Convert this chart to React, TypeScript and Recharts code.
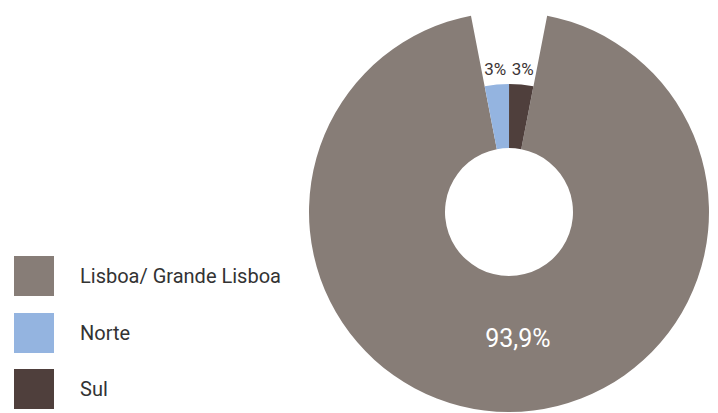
import React from "react";
import { PieChart, Pie, Cell } from "recharts";

const categories = ["Lisboa/ Grande Lisboa", "Norte", "Sul"];
const shares = [93.9, 3.05, 3.05];
const shareLabels = ["93,9%", "3%", "3%"];
const colors = ["#877d77", "#94b4e0", "#4f3f3c"];

const data = categories.map((name, i) => ({ name, value: shares[i], label: shareLabels[i] }));

const RAD = Math.PI / 180;
const FONT = "Roboto, 'Open Sans', sans-serif";

const bigLabel = (props: any) => {
  const { cx, cy, midAngle, innerRadius, outerRadius, index } = props;
  if (index !== 0) return null;
  const r = (innerRadius + outerRadius) / 2 - 6;
  const x = cx + r * Math.cos(-midAngle * RAD);
  const y = cy + r * Math.sin(-midAngle * RAD);
  return (
    <text x={x + 9} y={y} fill="#ffffff" fontSize={25} fontFamily={FONT} textAnchor="middle" dominantBaseline="central">
      {data[index].label}
    </text>
  );
};

const smallLabel = (props: any) => {
  const { cx, cy, midAngle, outerRadius, index } = props;
  if (index === 0) return null;
  const r = outerRadius + 16;
  const x = cx + r * Math.cos(-midAngle * RAD);
  const y = cy + r * Math.sin(-midAngle * RAD);
  return (
    <text x={x} y={y} fill="#3d3535" fontSize={17} fontFamily={FONT} textAnchor="middle" dominantBaseline="central">
      {data[index].label}
    </text>
  );
};

const LegendBlock = () => (
  <div style={{ position: "absolute", left: 14, top: 256, fontFamily: FONT }}>
    {categories.map((c, i) => (
      <div key={c} style={{ display: "flex", alignItems: "center", height: 40, marginBottom: i < categories.length - 1 ? 16.5 : 0 }}>
        <div style={{ width: 40, height: 40, background: colors[i] }} />
        <span style={{ marginLeft: 26, fontSize: 20, color: "#333333", whiteSpace: "nowrap" }}>{c}</span>
      </div>
    ))}
  </div>
);

export default function App() {
  return (
    <div style={{ position: "absolute", left: 0, top: 0, width: 718, height: 413, background: "#ffffff" }}>
      <PieChart width={718} height={413} margin={{ top: 0, right: 0, bottom: 0, left: 0 }}>
        <Pie
          data={data}
          dataKey="value"
          nameKey="name"
          cx={509}
          cy={212}
          innerRadius={64}
          outerRadius={200}
          startAngle={79}
          endAngle={-281}
          stroke="none"
          label={bigLabel}
          labelLine={false}
          isAnimationActive={false}
        >
          {data.map((d, i) => (
            <Cell key={d.name} fill={i === 0 ? colors[i] : "transparent"} />
          ))}
        </Pie>
        <Pie
          data={data}
          dataKey="value"
          nameKey="name"
          cx={509}
          cy={212}
          innerRadius={64}
          outerRadius={128}
          startAngle={79}
          endAngle={-281}
          stroke="none"
          label={smallLabel}
          labelLine={false}
          isAnimationActive={false}
        >
          {data.map((d, i) => (
            <Cell key={d.name} fill={i === 0 ? "transparent" : colors[i]} />
          ))}
        </Pie>
      </PieChart>
      <LegendBlock />
    </div>
  );
}
